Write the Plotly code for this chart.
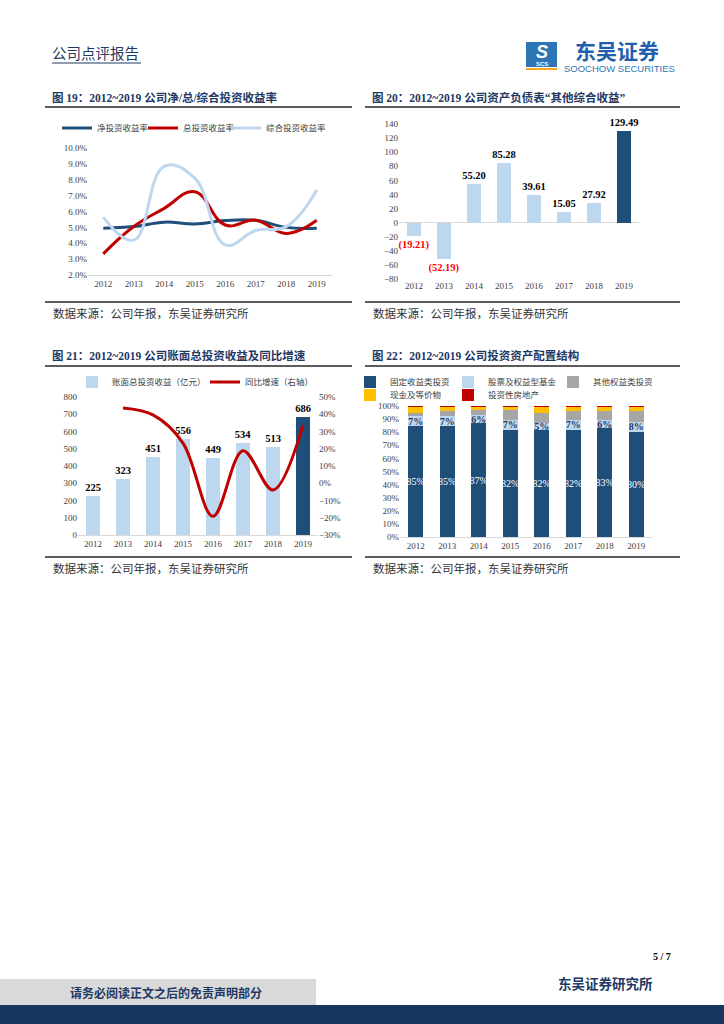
import plotly.graph_objects as go

# ---------------- data ----------------
years = ["2012", "2013", "2014", "2015", "2016", "2017", "2018", "2019"]

# Fig 19: investment yields
net_yield = [0.0495, 0.0505, 0.0533, 0.0522, 0.0543, 0.0545, 0.0500, 0.0495]
total_yield = [0.0333, 0.0505, 0.0620, 0.0725, 0.0515, 0.0545, 0.0462, 0.0545]
comp_yield = [0.0565, 0.0420, 0.0885, 0.0810, 0.0390, 0.0480, 0.0505, 0.0735]

# Fig 20: other comprehensive income
oci = [-19.21, -52.19, 55.20, 85.28, 39.61, 15.05, 27.92, 129.49]

# Fig 21: total investment income and YoY growth
inv_income = [225, 323, 451, 556, 449, 534, 513, 686]
growth_years = ["2013", "2014", "2015", "2016", "2017", "2018", "2019"]
growth = [0.436, 0.396, 0.233, -0.192, 0.189, -0.039, 0.337]

# Fig 22: investment asset allocation
alloc_fixed = [0.85, 0.85, 0.87, 0.82, 0.82, 0.82, 0.83, 0.80]
alloc_equity = [0.07, 0.07, 0.06, 0.07, 0.05, 0.07, 0.06, 0.08]
alloc_other = [0.03, 0.04, 0.04, 0.08, 0.08, 0.075, 0.07, 0.08]
alloc_cash = [0.045, 0.035, 0.025, 0.025, 0.045, 0.03, 0.035, 0.035]
alloc_realty = [0.005, 0.005, 0.005, 0.005, 0.005, 0.005, 0.005, 0.005]

# ---------------- helpers ----------------
W, H = 724, 1024


def X(px):
    return px / W


def Y(py):
    return 1 - py / H


NAVY = "#1F3864"
DARK = "#1F4E79"
LIGHT = "#BDD7EE"
RED = "#C00000"
SERIF = "Liberation Serif, Noto Sans CJK SC"
CJK = "Noto Sans CJK SC"
TICK = dict(family="Liberation Serif", size=9, color="#404040")

fig = go.Figure()

# ---- Fig 19 lines ----
for name, vals, col, leg in [("净投资收益率", net_yield, DARK, "legend"),
                             ("总投资收益率", total_yield, RED, "legend5"),
                             ("综合投资收益率", comp_yield, LIGHT, "legend6")]:
    fig.add_trace(go.Scatter(x=years, y=vals, name=name, mode="lines",
                             line=dict(color=col, width=3, shape="spline", smoothing=1.2),
                             xaxis="x", yaxis="y", legend=leg))

# ---- Fig 20 bars ----
oci_text = [("<b>%.2f</b>" % v) if v >= 0 else ("<b>(%.2f)</b>" % (-v)) for v in oci]
oci_colors = [LIGHT] * (len(oci) - 1) + [DARK]
oci_txtcol = ["#FF0000" if v < 0 else "#000000" for v in oci]
fig.add_trace(go.Bar(x=years, y=oci, marker=dict(color=oci_colors, line=dict(width=0)),
                     text=oci_text, textposition="outside", cliponaxis=False,
                     constraintext="none", textangle=0,
                     textfont=dict(family="Liberation Serif", size=10.5, color=oci_txtcol),
                     showlegend=False, xaxis="x2", yaxis="y2"))

# ---- Fig 21 bars + line ----
inc_colors = [LIGHT] * (len(inv_income) - 1) + [DARK]
fig.add_trace(go.Bar(x=years, y=inv_income, name="账面总投资收益（亿元）",
                     marker=dict(color=inc_colors, line=dict(width=0)),
                     text=["<b>%d</b>" % v for v in inv_income], textposition="outside",
                     cliponaxis=False, constraintext="none", textangle=0,
                     textfont=dict(family="Liberation Serif", size=10.5, color="#000000"),
                     xaxis="x3", yaxis="y3", legend="legend2"))
fig.add_trace(go.Scatter(x=growth_years, y=growth, name="同比增速（右轴）", mode="lines",
                         line=dict(color=RED, width=3, shape="spline", smoothing=1.0),
                         xaxis="x3", yaxis="y4", legend="legend7"))

# ---- Fig 22 stacked bars ----
fig.add_trace(go.Bar(x=years, y=alloc_fixed, name="固定收益类投资", marker=dict(color=DARK, line=dict(width=0)),
                     text=["%d%%" % round(v * 100) for v in alloc_fixed], textposition="inside",
                     insidetextanchor="middle", constraintext="none", textangle=0,
                     textfont=dict(family="Liberation Serif", size=10, color="white"),
                     xaxis="x5", yaxis="y5", legend="legend3"))
fig.add_trace(go.Bar(x=years, y=alloc_equity, name="股票及权益型基金", marker=dict(color=LIGHT, line=dict(width=0)),
                     text=["<b>%d%%</b>" % round(v * 100) for v in alloc_equity], textposition="inside",
                     insidetextanchor="middle", constraintext="none", textangle=0,
                     textfont=dict(family="Liberation Serif", size=10, color="#1F3864"),
                     xaxis="x5", yaxis="y5", legend="legend8"))
fig.add_trace(go.Bar(x=years, y=alloc_other, name="其他权益类投资", marker=dict(color="#A6A6A6", line=dict(width=0)),
                     xaxis="x5", yaxis="y5", legend="legend9"))
fig.add_trace(go.Bar(x=years, y=alloc_cash, name="现金及等价物", marker=dict(color="#FFC000", line=dict(width=0)),
                     xaxis="x5", yaxis="y5", legend="legend4"))
fig.add_trace(go.Bar(x=years, y=alloc_realty, name="投资性房地产", marker=dict(color=RED, line=dict(width=0)),
                     xaxis="x5", yaxis="y5", legend="legend10"))

# ---------------- axes ----------------
xcommon = dict(type="category", categoryorder="array", categoryarray=years,
               tickfont=TICK, ticks="", showgrid=False, fixedrange=True)
ycommon = dict(tickfont=TICK, ticks="", showgrid=False, zeroline=False, showline=False)

fig.update_layout(
    xaxis=dict(domain=[X(88), X(332)], anchor="y", showline=True, linecolor="#D9D9D9",
               range=[-0.5, 7.5], **xcommon),
    yaxis=dict(domain=[Y(275), Y(148)], anchor="x", range=[0.02, 0.10], dtick=0.01,
               tickformat=".1%", **ycommon),
    xaxis2=dict(domain=[X(399), X(639)], anchor="y2", showline=False, **xcommon),
    yaxis2=dict(domain=[Y(279), Y(124)], anchor="x2", range=[-80, 140], dtick=20,
                tickfont=TICK, ticks="", showgrid=False, showline=False,
                zeroline=True, zerolinecolor="#D9D9D9", zerolinewidth=1),
    xaxis3=dict(domain=[X(78), X(318)], anchor="y3", showline=True, linecolor="#D9D9D9", **xcommon),
    yaxis3=dict(domain=[Y(535), Y(397)], anchor="x3", range=[0, 800], dtick=100, **ycommon),
    yaxis4=dict(overlaying="y3", side="right", anchor="x3", range=[-0.3, 0.5], dtick=0.1,
                tickformat=".0%", **ycommon),
    xaxis5=dict(domain=[X(400), X(652)], anchor="y5", showline=True, linecolor="#D9D9D9", **xcommon),
    yaxis5=dict(domain=[Y(537), Y(406)], anchor="x5", range=[0, 1], dtick=0.1,
                tickformat=".0%", **ycommon),
    barmode="stack",
    bargap=0.53,
)

legfont = dict(family=CJK, size=8.5, color="#404040")


def leg(xpx, ypx):
    return dict(orientation="h", x=X(xpx), y=Y(ypx), xanchor="left", yanchor="middle", font=legfont,
                bgcolor="rgba(0,0,0,0)", itemclick=False, itemdoubleclick=False, traceorder="normal")


fig.update_layout(
    legend=leg(57, 128), legend5=leg(143, 128), legend6=leg(226, 128),
    legend2=leg(72, 382), legend7=leg(205, 382),
    legend3=leg(350, 382), legend8=leg(448, 382), legend9=leg(553, 382),
    legend4=leg(350, 395), legend10=leg(448, 395),
)

# ---------------- page furniture ----------------
shapes = []
annotations = []


def line(x0, y0, x1, y1, color="#262626", width=1.5):
    shapes.append(dict(type="line", xref="paper", yref="paper", x0=X(x0), y0=Y(y0), x1=X(x1), y1=Y(y1),
                       line=dict(color=color, width=width), layer="above"))


def rect(x0, y0, x1, y1, color):
    shapes.append(dict(type="rect", xref="paper", yref="paper", x0=X(x0), y0=Y(y0), x1=X(x1), y1=Y(y1),
                       fillcolor=color, line=dict(width=0), layer="below"))


def text(t, x, y, size=10, color="#000", family=CJK, xanchor="left", bold=False):
    annotations.append(dict(text=("<b>%s</b>" % t) if bold else t, x=X(x), y=Y(y), xref="paper", yref="paper",
                            xanchor=xanchor, yanchor="middle", showarrow=False, borderpad=0,
                            font=dict(size=size, color=color, family=family)))


# header
text("公司点评报告", 51, 52, size=14.5, color=NAVY)
line(52, 63, 141, 63, color=NAVY, width=1)
# logo
rect(526, 42, 557, 61, "#2E75B6")
text("<i>S</i>", 541.5, 51.5, size=18, color="white", family="Liberation Sans", xanchor="center", bold=True)
rect(526, 61, 557, 67, "#2E75B6")
text("SCS", 541.5, 64, size=6, color="white", family="Liberation Sans", xanchor="center", bold=True)
rect(526, 68, 557, 70, "#F5A623")
text("东吴证券", 617, 50, size=21, color="#1F5FAD", xanchor="center", bold=True)
text("SOOCHOW SECURITIES", 563, 68, size=9.5, color="#2E75B6", family="Liberation Sans")

# chart titles
text("图 19：2012~2019 公司净/总/综合投资收益率", 51, 97, size=11.5, color=NAVY, family=SERIF, bold=True)
text("图 20：2012~2019 公司资产负债表“其他综合收益”", 371, 97, size=11.5, color=NAVY, family=SERIF, bold=True)
text("图 21：2012~2019 公司账面总投资收益及同比增速", 51, 355, size=11.5, color=NAVY, family=SERIF, bold=True)
text("图 22：2012~2019 公司投资资产配置结构", 371, 355, size=11.5, color=NAVY, family=SERIF, bold=True)
for y in (107, 366):
    line(45, y, 352, y)
    line(365, y, 680, y)
for y in (302, 557):
    line(45, y, 352, y)
    line(365, y, 680, y)

src = "数据来源：公司年报，东吴证券研究所"
text(src, 52, 313, size=11.5, color="#333333")
text(src, 372, 313, size=11.5, color="#333333")
text(src, 52, 568, size=11.5, color="#333333")
text(src, 372, 568, size=11.5, color="#333333")

# footer
text("5 / 7", 672, 956, size=10, color="#000", family="Liberation Serif", xanchor="right", bold=True)
text("东吴证券研究所", 654, 983, size=13.5, color=NAVY, xanchor="right", bold=True)
rect(0, 979, 316, 1005, "#D9D9D9")
text("请务必阅读正文之后的免责声明部分", 166, 992, size=12, color=NAVY, xanchor="center", bold=True)
rect(0, 1005, 724, 1024, "#17375E")

fig.update_layout(
    width=W, height=H, margin=dict(l=0, r=0, t=0, b=0, autoexpand=False),
    paper_bgcolor="white", plot_bgcolor="white",
    font=dict(family=SERIF, size=9, color="#404040"),
    shapes=shapes, annotations=annotations,
)

fig.write_html("out.html", config={"displayModeBar": False},
               post_script="document.body.style.margin='0px';")
